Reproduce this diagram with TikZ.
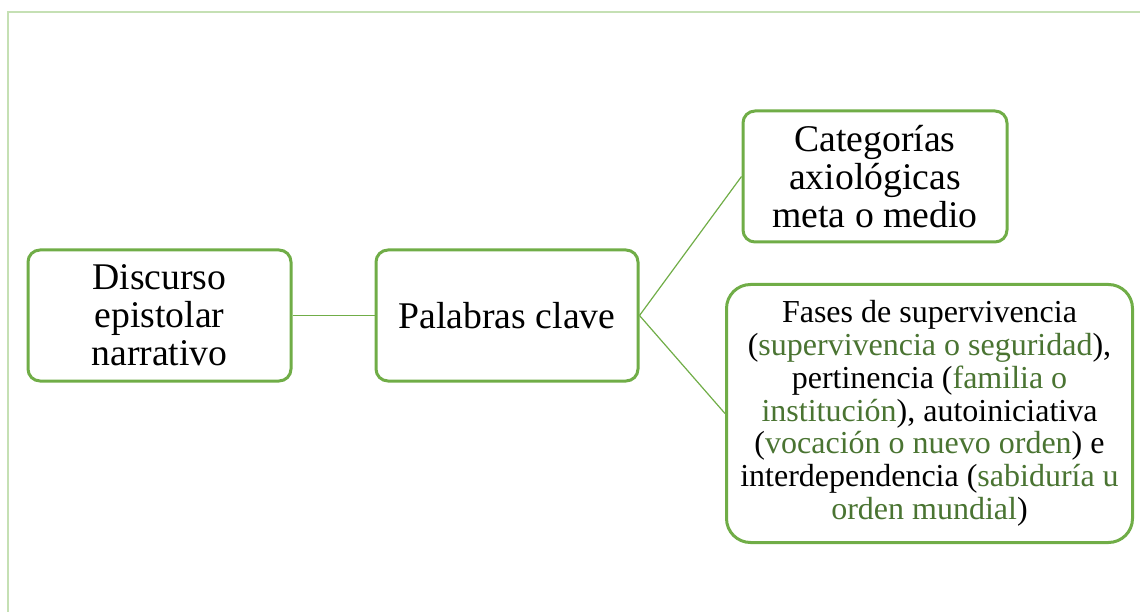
\documentclass[tikz,border=0pt]{standalone}
\usepackage{fontspec}
\setmainfont{Liberation Serif}
\definecolor{boxline}{HTML}{70AD47}
\definecolor{framegreen}{HTML}{C5E0B4}
\definecolor{termgreen}{HTML}{4A7432}
\newcommand{\term}[1]{\textcolor{termgreen}{#1}}
\begin{document}
\begin{tikzpicture}[x=1pt,y=-1pt,
  box/.style={draw=boxline, line width=3pt, rounded corners=12pt, fill=white,
    align=center, inner sep=0pt, text=black},
  bigtext/.style={font=\fontsize{37.7}{38}\selectfont},
  smalltext/.style={font=\fontsize{32}{32.8}\selectfont},
  conn/.style={draw=boxline, line width=1.2pt}]
\useasboundingbox (0,0) rectangle (1140,612);
% light frame along the top and left edges
\draw[framegreen, line width=2pt] (7.5,612) -- (7.5,12.5) -- (1140,12.5);

\node[box, bigtext, minimum width=263pt, minimum height=131pt] (disc) at (159.5,315.5)
  {Discurso\\epistolar\\narrativo};
\node[box, bigtext, minimum width=262pt, minimum height=131pt] (pal) at (507,315.5)
  {Palabras clave};
\node[box, bigtext, minimum width=264pt, minimum height=131pt] (cat) at (875,176.5)
  {Categorías\\axiológicas\\meta o medio};
\node[box, smalltext, rounded corners=24pt, minimum width=406pt, minimum height=258pt] (fases) at (929.5,413.5)
  {Fases de supervivencia\\
   (\term{supervivencia o seguridad}),\\
   pertinencia (\term{familia o}\\
   \term{institución}), autoiniciativa\\
   (\term{vocación o nuevo orden}) e\\
   interdependencia (\term{sabiduría u}\\
   \term{orden mundial})};

\draw[conn] (disc.east) -- (pal.west);
\draw[conn] (pal.east) -- (cat.west);
\draw[conn] (pal.east) -- (fases.west);
\end{tikzpicture}
\end{document}
